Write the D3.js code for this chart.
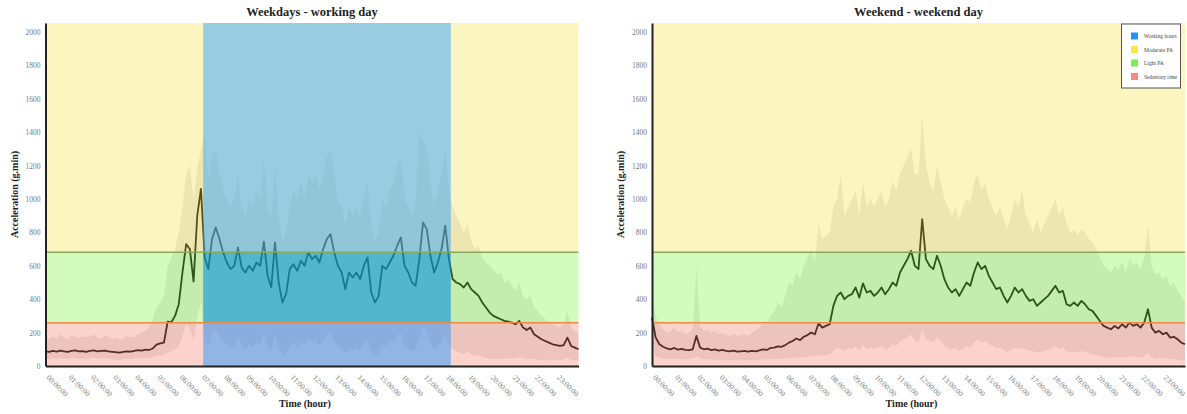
<!DOCTYPE html>
<html><head><meta charset="utf-8">
<script src="https://cdn.jsdelivr.net/npm/d3@7"></script>
<style>
body{margin:0;background:#fff}
svg{display:block}
text{font-family:"Liberation Serif","Times New Roman",serif}
</style>
</head><body>
<svg id="c" width="1187" height="414"></svg>
<script>
// ---------------- DATA ----------------
const stepMinutes = 10;                 // sampling step of the series below
const hourTicks = d3.range(0, 24);      // 00:00:00 .. 23:00:00
const yTicks = [0,200,400,600,800,1000,1200,1400,1600,1800,2000];
const yMax = 2054;
const sedentaryLimit = 259;
const moderateLimit = 681;
const workingHours = [426, 1095];       // minutes from midnight (07:06 - 18:15)

const weekdayMean = [
 88,85,90,86,92,88, 84,90,93,87,89,85, 91,94,88,90,92,87, 85,83,80,84,88,86, 90,95,92,98,96,105,
 128,135,140,265,262,300, 370,560,730,700,505,900,
 1060,650,580,760,830,760, 680,620,580,600,710,590, 560,600,570,620,600,745,
 540,470,740,500,380,430, 580,610,570,630,600,680, 640,660,620,700,760,790,
 680,600,560,460,560,530, 560,520,600,650,440,380, 420,600,580,620,660,720,
 770,600,560,500,480,640, 860,820,660,560,620,700, 840,640,520,500,490,470,
 500,460,440,420,380,350, 320,300,290,280,270,265, 260,250,270,230,215,230,
 190,175,160,150,140,130, 125,120,125,170,120,110, 100
];
const weekdayUpper = [
 170,160,180,165,190,170, 160,185,175,165,180,170, 175,190,170,165,185,175, 160,170,155,165,180,170,
 175,190,200,210,230,280, 350,380,420,600,650,700, 800,950,1150,1200,1000,1180,
 1300,1400,1100,1250,1300,1150, 1050,1000,950,1000,1150,950, 900,1000,950,1050,1000,1250,
 950,880,1200,900,750,800, 950,1050,1000,1100,1000,1150, 1100,1150,1050,1150,1250,1300,
 1150,1000,950,850,950,900, 950,900,1000,1100,850,750, 800,1000,950,1050,1100,1200,
 1250,1000,950,900,1000,1400, 1350,1300,1100,950,1050,1150, 1300,1050,950,900,850,800,
 850,750,700,720,650,620, 600,580,550,560,500,520, 480,450,500,420,400,420,
 350,330,300,280,260,250, 240,230,250,330,230,210, 190
];
const weekdayLower = [
 45,40,50,42,48,44, 40,46,50,43,45,41, 47,50,44,46,48,43, 40,38,36,40,44,42,
 45,48,46,50,48,52, 60,62,65,80,90,100, 120,180,250,230,150,300,
 380,150,120,200,220,180, 150,130,120,110,180,120, 100,130,110,140,120,200,
 110,90,190,100,60,80, 120,140,110,150,120,170, 140,160,120,160,180,210,
 150,120,110,80,110,90, 110,100,140,160,90,60, 80,130,120,140,150,180,
 200,120,110,90,100,160, 240,210,140,100,120,150, 200,130,100,90,80,70,
 90,70,60,65,55,50, 45,40,45,40,45,40, 50,45,55,45,40,45,
 40,38,35,38,35,36, 38,35,40,50,38,35, 35
];
const weekendMean = [
 290,170,130,115,105,100, 108,98,102,96,95,100, 180,110,100,104,95,100, 92,96,90,88,92,86,
 88,90,86,90,88,94, 100,96,108,110,118,115, 125,140,150,165,155,175, 185,200,190,255,230,240,
 250,360,420,440,400,420, 430,470,410,495,440,450, 420,440,470,430,460,500, 480,560,600,640,690,600,
 580,880,640,600,580,660, 600,520,470,440,460,420, 460,500,480,560,620,580, 600,540,500,460,470,420,
 380,420,470,440,460,420, 390,400,360,380,400,420, 450,480,440,450,370,360, 380,360,390,370,340,330,
 300,270,240,230,220,240, 225,250,230,260,240,250, 230,260,340,230,200,210, 190,200,170,175,160,140,
 130
];
const weekendUpper = [
 420,300,250,220,200,210, 230,200,210,190,200,220, 600,240,210,220,200,210, 190,200,185,180,195,180,
 185,190,180,200,210,230, 260,250,300,320,380,350, 420,500,480,560,520,600, 650,700,620,850,760,780,
 800,950,1000,1150,900,950, 1000,1050,900,1100,950,1000, 950,1000,1050,950,1000,1100, 1050,1150,1200,1250,1300,1150,
 1150,1500,1200,1100,1050,1200, 1100,1000,950,900,950,880, 950,1000,980,1100,1150,1050, 1100,1000,950,900,950,880,
 820,900,1000,950,1050,900, 850,800,880,800,850,900, 950,1000,900,950,850,800, 820,780,820,800,760,740,
 700,650,600,580,560,600, 580,620,560,640,600,620, 580,650,850,600,550,560, 520,540,480,500,450,420,
 380
];
const weekendLower = [
 150,60,50,45,42,40, 44,40,42,38,40,42, 60,44,40,42,38,40, 36,38,35,34,36,34,
 35,36,34,36,35,38, 40,38,42,40,45,42, 45,48,50,52,48,55, 55,60,55,70,60,65,
 70,90,110,100,90,110, 100,120,90,130,100,110, 100,110,120,100,110,130, 120,150,160,170,190,150,
 140,220,160,150,140,170, 150,120,110,100,110,90, 110,120,110,140,160,140, 150,130,120,110,110,100,
 80,100,110,100,110,100, 90,90,80,85,90,100, 110,120,100,110,90,80, 90,80,90,85,75,70,
 65,60,55,50,50,55, 50,55,50,60,55,55, 50,60,80,50,45,48, 45,46,40,42,38,35,
 32
];

const legendItems = ["Working hours","Moderate PA","Light PA","Sedentary time"];
const legendColors = ["#2196f3","#fbe54e","#7cec55","#f38b83"];

// ---------------- STYLE ----------------
const zoneDefs = [
  {lo:0, hi:sedentaryLimit, color:"rgb(246,126,109)", work:"rgba(42,151,255,0.5)"},
  {lo:sedentaryLimit, hi:moderateLimit, color:"rgb(129,243,66)", work:"rgba(9,149,221,0.6)"},
  {lo:moderateLimit, hi:yMax, color:"rgb(249,226,75)", work:"rgba(51,163,255,0.5)"}
];

const svg = d3.select("#c");
const plotTop = 23, plotBottom = 366, plotW = 533;

function pad(n){return String(n).padStart(2,"0");}

function drawChart(opt){
  const x = d3.scaleLinear().domain([0,1440]).range([opt.left, opt.left+plotW]);
  const y = d3.scaleLinear().domain([0,yMax]).range([plotBottom, plotTop]);
  const g = svg.append("g");
  const t = i => i*stepMinutes;

  // band
  const area = d3.area().x((d,i)=>x(t(i))).y0((d,i)=>y(opt.lower[i])).y1((d,i)=>y(opt.upper[i]));
  g.append("path").datum(opt.upper).attr("d",area)
    .attr("fill","#8c8c8c").attr("fill-opacity",0.2);
  // mean line
  const line = d3.line().x((d,i)=>x(t(i))).y(d=>y(d));
  g.append("path").datum(opt.mean).attr("d",line)
    .attr("fill","none").attr("stroke","#000").attr("stroke-width",1.8).attr("stroke-linejoin","round");

  // zones
  zoneDefs.forEach(z=>{
    g.append("rect").attr("x",x(0)).attr("width",x(1440)-x(0))
      .attr("y",y(z.hi)).attr("height",y(z.lo)-y(z.hi))
      .attr("fill",z.color).attr("fill-opacity",0.35);
  });
  if(opt.working){
    zoneDefs.forEach(z=>{
      g.append("rect").attr("x",x(workingHours[0])).attr("width",x(workingHours[1])-x(workingHours[0]))
        .attr("y",y(z.hi)).attr("height",y(z.lo)-y(z.hi)).attr("fill",z.work);
    });
  }
  // threshold lines
  g.append("line").attr("x1",x(0)).attr("x2",x(1440)).attr("y1",y(moderateLimit)).attr("y2",y(moderateLimit))
    .attr("stroke","#86a95a").attr("stroke-width",1.4);
  g.append("line").attr("x1",x(0)).attr("x2",x(1440)).attr("y1",y(sedentaryLimit)).attr("y2",y(sedentaryLimit))
    .attr("stroke","#e98a4c").attr("stroke-width",1.4);

  // axes
  const ya = g.append("g").attr("transform",`translate(${opt.left},0)`)
    .call(d3.axisLeft(y).tickValues(yTicks).tickSize(0).tickSizeOuter(0).tickPadding(5).tickFormat(d3.format("d")));
  ya.select(".domain").attr("stroke","#222").attr("stroke-width",2);
  ya.selectAll("text").attr("fill","#777").style("font-size","7.5px").style("font-family",'"Liberation Serif",serif');

  const xa = g.append("g").attr("transform",`translate(0,${plotBottom})`)
    .call(d3.axisBottom(x).tickValues(hourTicks.map(h=>h*60)).tickSize(0).tickSizeOuter(0)
      .tickFormat(m=>pad(m/60)+":00:00"));
  xa.select(".domain").attr("stroke","#222").attr("stroke-width",2);
  xa.selectAll("text").attr("fill","#777").style("font-size","7.5px").style("font-family",'"Liberation Serif",serif')
    .attr("x",0).attr("y",0).attr("dy",0).style("text-anchor","start")
    .attr("transform","translate(0,12) rotate(45)");

  // titles
  const cx = opt.left + plotW/2;
  g.append("text").attr("x",cx).attr("y",16).attr("text-anchor","middle")
    .style("font-size","12.5px").style("font-weight","bold").attr("fill","#222").text(opt.title);
  g.append("text").attr("x",cx-7).attr("y",407).attr("text-anchor","middle")
    .style("font-size","10px").style("font-weight","bold").attr("fill","#222").text("Time (hour)");
  g.append("text").attr("transform",`translate(${opt.left-28},${(plotTop+plotBottom)/2}) rotate(-90)`)
    .attr("text-anchor","middle").style("font-size","10px").style("font-weight","bold").attr("fill","#222")
    .text("Acceleration (g.min)");

  if(opt.legend){
    const lg = g.append("g").attr("transform","translate(1121.5,24)");
    lg.append("rect").attr("width",59).attr("height",64).attr("fill","#fff").attr("stroke","#555").attr("stroke-width",1);
    legendItems.forEach((name,i)=>{
      lg.append("rect").attr("x",9.5).attr("y",8.5+i*13.5).attr("width",7).attr("height",7).attr("fill",legendColors[i]);
      lg.append("text").attr("x",22.5).attr("y",14+i*13.5).style("font-size","5.5px").attr("fill","#444").text(name);
    });
  }
}

drawChart({left:45.5, title:"Weekdays - working day", mean:weekdayMean, upper:weekdayUpper, lower:weekdayLower, working:true});
drawChart({left:652, title:"Weekend - weekend day", mean:weekendMean, upper:weekendUpper, lower:weekendLower, working:false, legend:true});
</script>
</body></html>
